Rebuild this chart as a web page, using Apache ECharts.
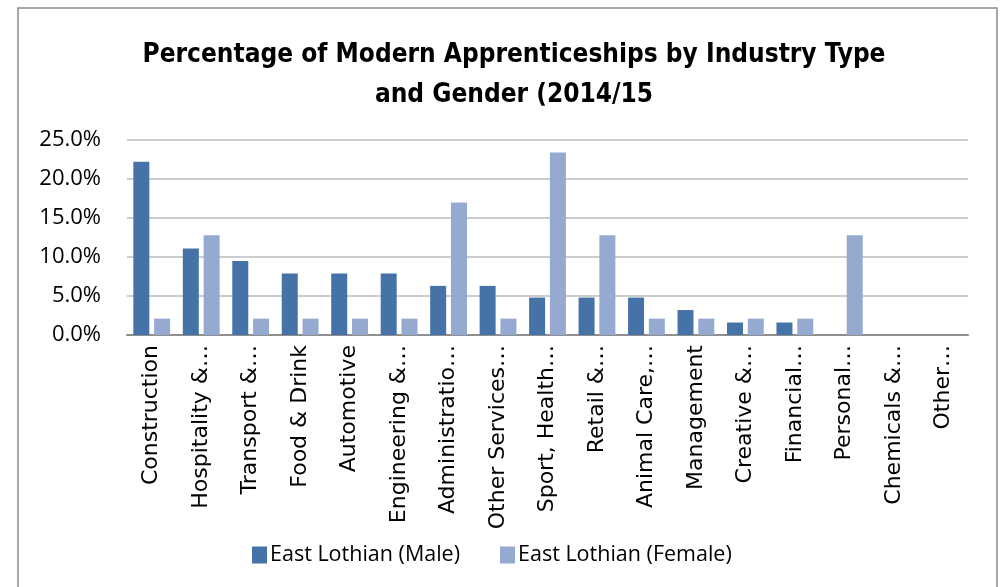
<!DOCTYPE html>
<html>
<head>
<meta charset="utf-8">
<script src="https://cdn.jsdelivr.net/npm/echarts@6/dist/echarts.min.js"></script>
<style>
  html, body { margin: 0; padding: 0; background: #fff; }
  #chart { width: 1000px; height: 587px; }
</style>
</head>
<body>
<div id="chart"></div>
<script>
// industry names, as truncated on the original axis
const industries = [
  'Construction', 'Hospitality &\u2026', 'Transport &\u2026', 'Food & Drink', 'Automotive',
  'Engineering &\u2026', 'Administratio\u2026', 'Other Services\u2026', 'Sport, Health\u2026',
  'Retail &\u2026', 'Animal Care,\u2026', 'Management', 'Creative &\u2026', 'Financial\u2026',
  'Personal\u2026', 'Chemicals &\u2026', 'Other\u2026'
];
// percentages
const male   = [22.2, 11.1, 9.5, 7.9, 7.9, 7.9, 6.3, 6.3, 4.8, 4.8, 4.8, 3.2, 1.6, 1.6, 0, 0, 0];
const female = [2.1, 12.8, 2.1, 2.1, 2.1, 2.1, 17.0, 2.1, 23.4, 12.8, 2.1, 2.1, 2.1, 2.1, 12.8, 0, 0];
const seriesNames = ['East Lothian (Male)', 'East Lothian (Female)'];
const yTicks = { min: 0, max: 25, step: 5 };

const chart = echarts.init(document.getElementById('chart'));
const option = {
  backgroundColor: '#fff',
  animation: false,
  title: {
    text: 'Percentage of Modern Apprenticeships by Industry Type\nand Gender (2014/15',
    left: 509,
    top: 30,
    textAlign: 'center',
    textStyle: {
      fontFamily: 'DejaVu Sans Condensed',
      fontWeight: 'bold',
      fontSize: 26,
      lineHeight: 40,
      color: '#000'
    }
  },
  graphic: [{
    type: 'rect',
    shape: { x: 18, y: 8, width: 979, height: 700 },
    style: { fill: 'none', stroke: '#8a8a8a', lineWidth: 1.5 },
    silent: true
  }],
  legend: {
    left: 247,
    top: 539,
    itemWidth: 15,
    itemHeight: 17,
    itemGap: 40,
    icon: 'rect',
    textStyle: { fontFamily: 'Open Sans', fontSize: 21.5, color: '#000', padding: [0, 0, 0, -2] },
    data: seriesNames
  },
  grid: { left: 127, right: 32, top: 140, bottom: 252 },
  xAxis: {
    type: 'category',
    data: industries,
    axisTick: { show: false },
    axisLine: { lineStyle: { color: '#8f8f8f', width: 2 } },
    axisLabel: {
      rotate: 90,
      interval: 0,
      margin: 10,
      fontFamily: 'DejaVu Sans',
      fontSize: 22,
      color: '#000'
    }
  },
  yAxis: {
    type: 'value',
    min: yTicks.min,
    max: yTicks.max,
    interval: yTicks.step,
    axisLine: { show: false },
    axisTick: { show: false },
    splitLine: { lineStyle: { color: '#bdbdbd', width: 1.5 } },
    axisLabel: {
      margin: 26,
      fontFamily: 'Open Sans',
      fontSize: 22,
      color: '#000',
      formatter: v => v.toFixed(1) + '%'
    }
  },
  series: [
    {
      name: seriesNames[0],
      type: 'bar',
      data: male,
      barWidth: 16,
      barGap: '30%',
      itemStyle: { color: '#4673a7' }
    },
    {
      name: seriesNames[1],
      type: 'bar',
      data: female,
      barWidth: 16,
      itemStyle: { color: '#95a9d1' }
    }
  ]
};
chart.setOption(option);
</script>
</body>
</html>
